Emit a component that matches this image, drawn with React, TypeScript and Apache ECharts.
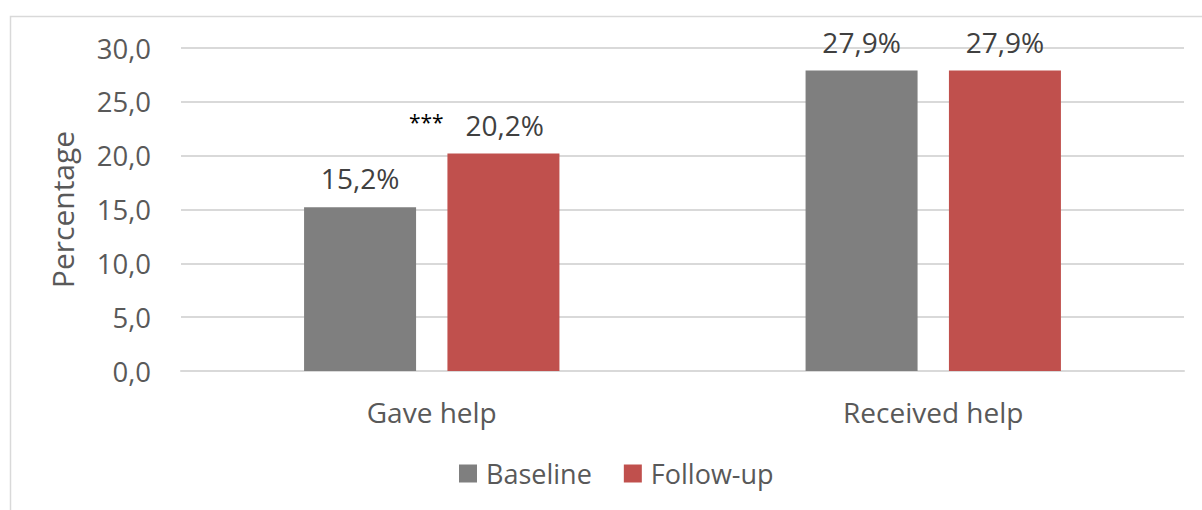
import React, { useEffect, useRef } from "react";
import * as echarts from "echarts";

const categories = ["Gave help", "Received help"];
const baseline = [15.2, 27.9];
const followUp = [20.2, 27.9];
const significance = ["***", ""];
const seriesNames = ["Baseline", "Follow-up"];
const yTicks = { min: 0, max: 30, interval: 5 };

const FONT = "'Open Sans', 'Noto Sans', sans-serif";
const GRAY = "#7F7F7F";
const RED = "#C0504D";

const pct = (v: number) => v.toFixed(1).replace(".", ",") + "%";

export default function App() {
  const ref = useRef<HTMLDivElement>(null);

  useEffect(() => {
    if (!ref.current) return;
    const chart = echarts.init(ref.current, undefined, { renderer: "svg" });

    const labelBase = {
      show: true,
      position: "top" as const,
      distance: 15,
      fontFamily: FONT,
      fontSize: 28,
      color: "#404040",
    };

    chart.setOption({
      animation: false,
      textStyle: { fontFamily: FONT },
      graphic: [
        {
          type: "rect",
          shape: { x: 10.5, y: 16.5, width: 1210, height: 520 },
          style: { fill: "none", stroke: "#D9D9D9", lineWidth: 1.5 },
          silent: true,
        },
      ],
      grid: { left: 181, right: 18, top: 48, bottom: 139 },
      legend: {
        left: 454,
        top: 455,
        itemWidth: 18,
        itemHeight: 18,
        itemGap: 32,
        icon: "rect",
        textStyle: {
          fontFamily: FONT,
          fontSize: 27,
          color: "#595959",
          padding: [0, 0, 0, 4],
        },
        data: seriesNames,
      },
      xAxis: {
        type: "category",
        data: categories,
        axisTick: { show: false },
        axisLine: { lineStyle: { color: "#D9D9D9", width: 2 } },
        axisLabel: {
          fontFamily: FONT,
          fontSize: 28,
          color: "#595959",
          margin: 27,
        },
      },
      yAxis: {
        type: "value",
        min: yTicks.min,
        max: yTicks.max,
        interval: yTicks.interval,
        name: "Percentage",
        nameLocation: "middle",
        nameGap: 104,
        nameRotate: 90,
        nameTextStyle: { fontFamily: FONT, fontSize: 30, color: "#595959" },
        axisLine: { show: false },
        axisTick: { show: false },
        splitLine: { lineStyle: { color: "#D9D9D9", width: 2 } },
        axisLabel: {
          fontFamily: FONT,
          fontSize: 27.5,
          color: "#595959",
          margin: 30,
          formatter: (v: number) => v.toFixed(1).replace(".", ","),
        },
      },
      series: [
        {
          name: seriesNames[0],
          type: "bar",
          data: baseline,
          barWidth: 112,
          barGap: "28%",
          itemStyle: { color: GRAY },
          label: { ...labelBase, formatter: (p: any) => pct(p.value) },
        },
        {
          name: seriesNames[1],
          type: "bar",
          data: followUp.map((v, i) => {
            const sig = significance[i];
            if (!sig) return v;
            return {
              value: v,
              label: {
                formatter: `{s|${sig}}   {v|${pct(v)}}`,
                offset: [-27, 0],
                rich: {
                  s: { fontFamily: FONT, fontSize: 21, color: "#000000", padding: [0, 0, 6, 0] },
                  v: { fontFamily: FONT, fontSize: 28, color: "#404040" },
                },
              },
            };
          }),
          barWidth: 112,
          barGap: "28%",
          itemStyle: { color: RED },
          label: { ...labelBase, formatter: (p: any) => pct(p.value) },
        },
      ],
    });

    return () => chart.dispose();
  }, []);

  return (
    <div
      ref={ref}
      style={{ position: "absolute", left: 0, top: 0, width: 1202, height: 510 }}
    />
  );
}
